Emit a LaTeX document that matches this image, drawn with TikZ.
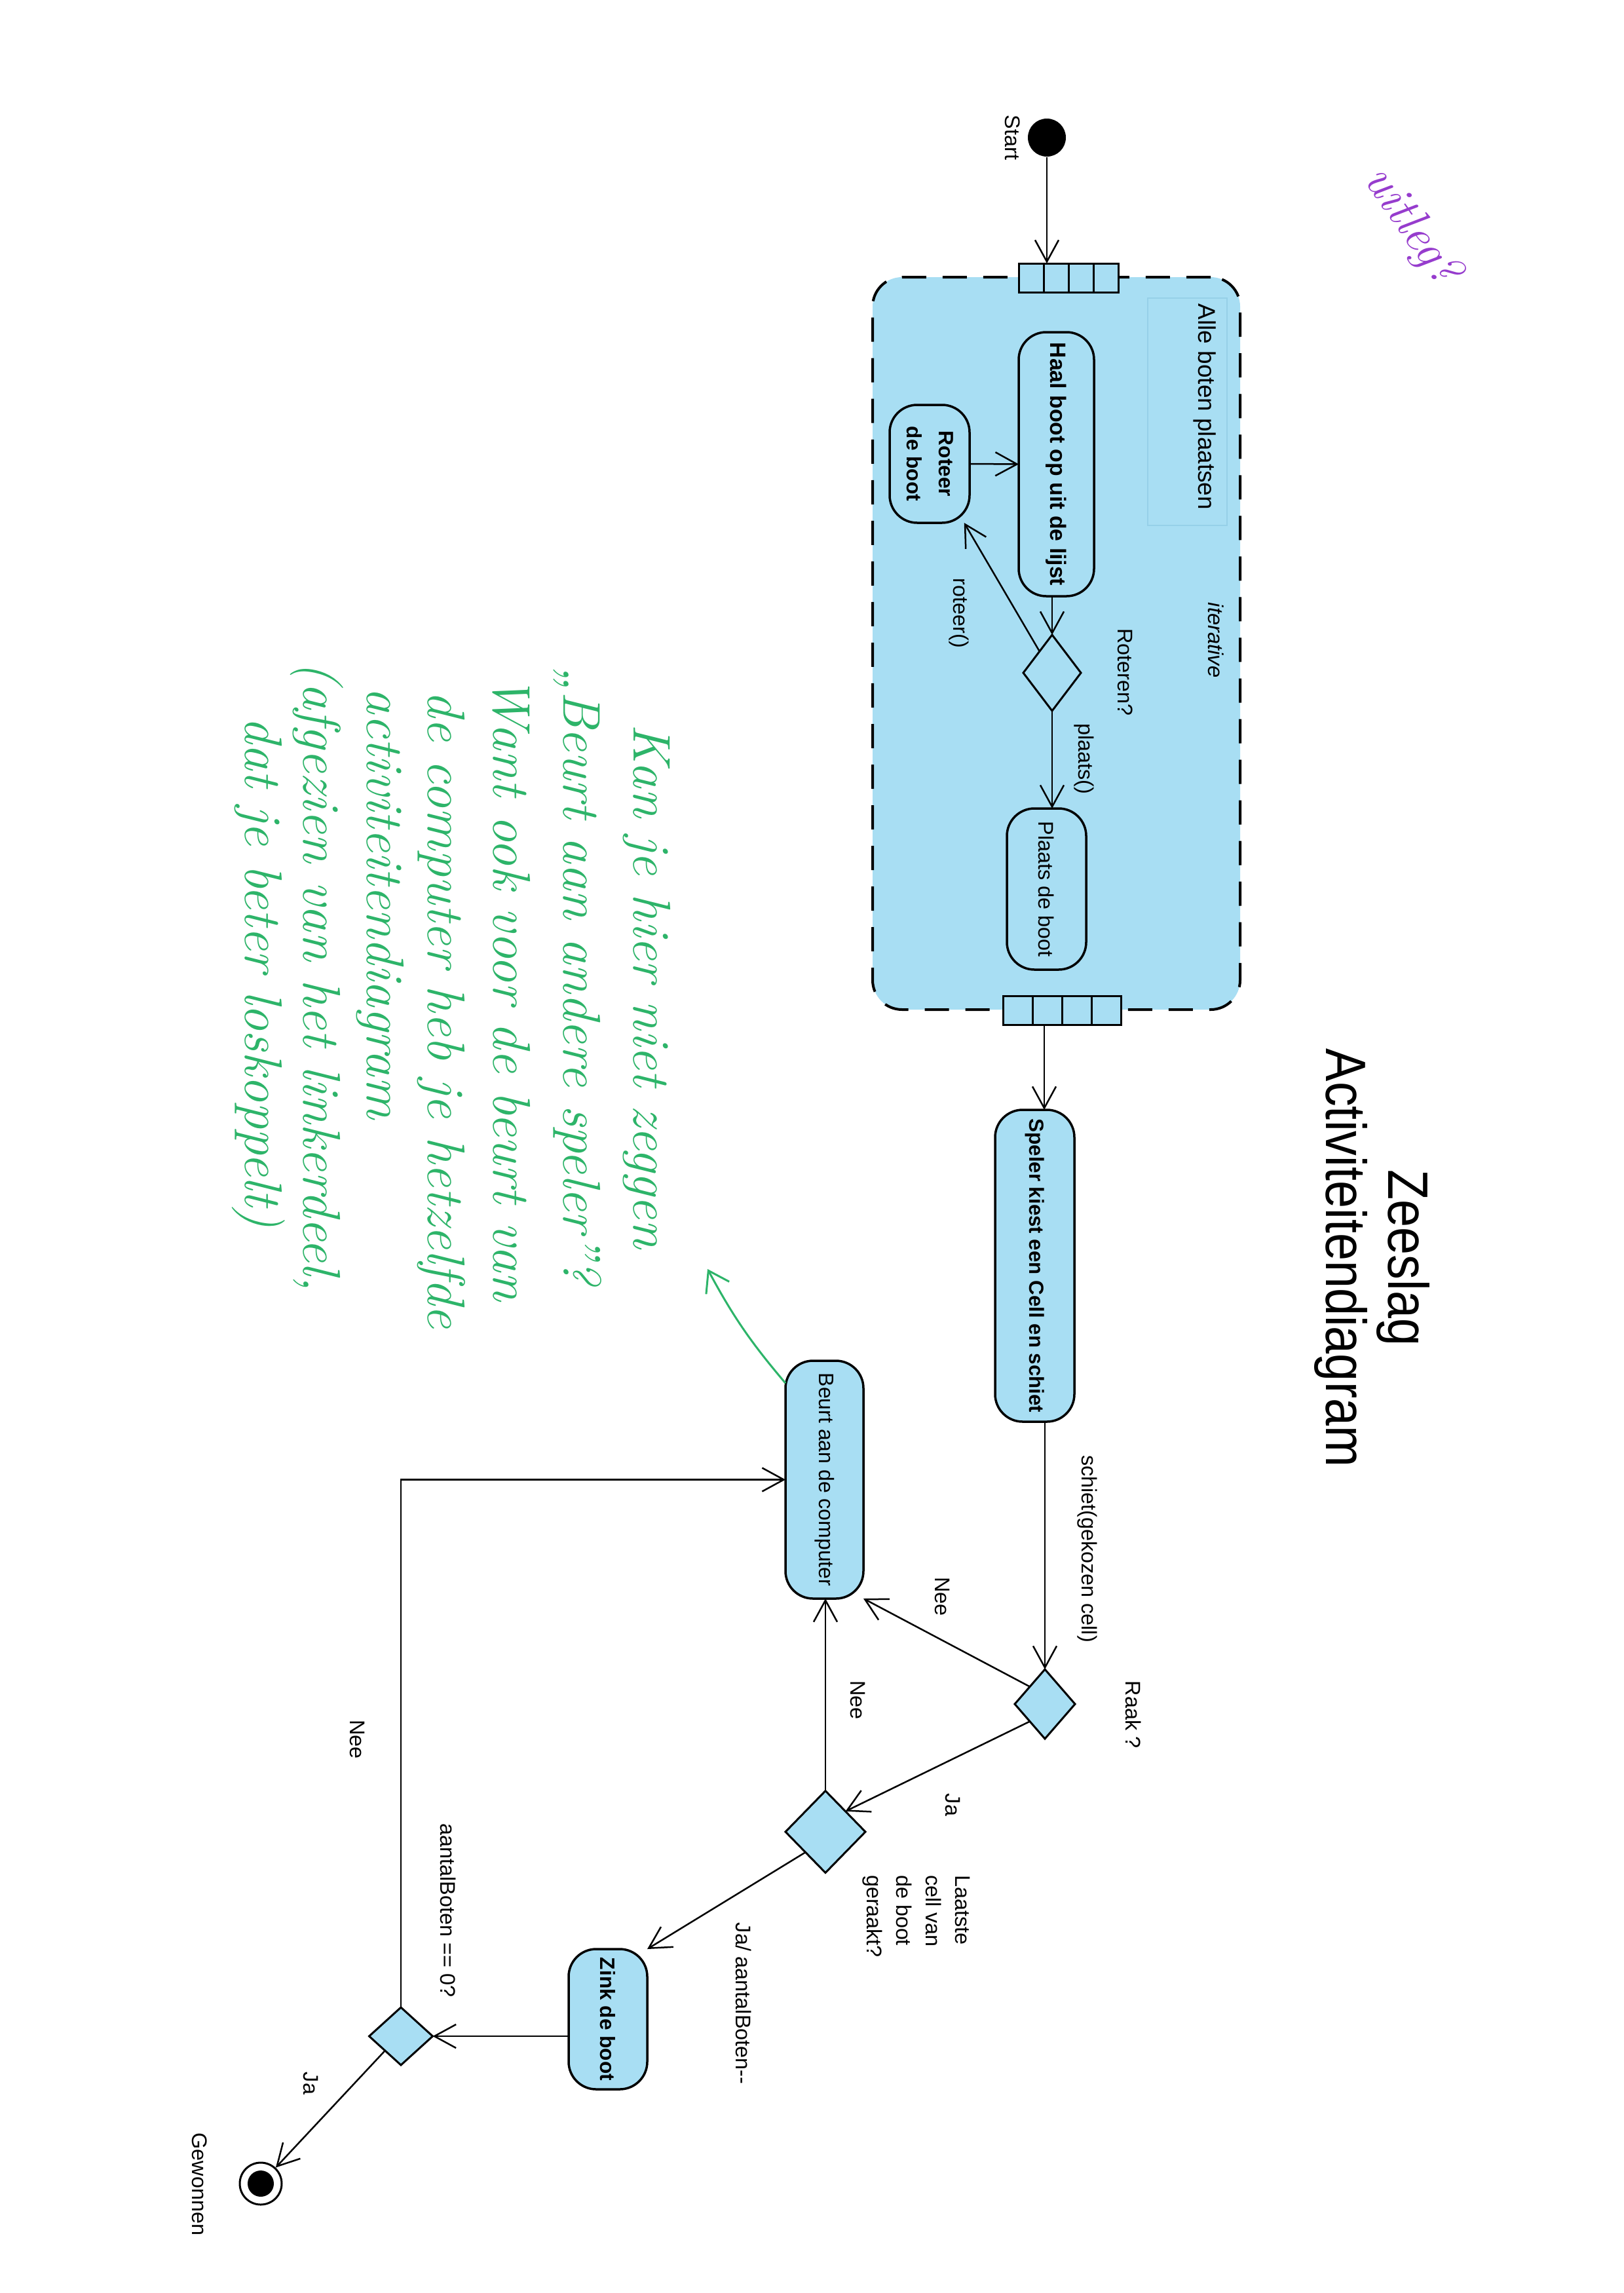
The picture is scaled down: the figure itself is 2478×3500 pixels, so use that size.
\documentclass[tikz,border=0pt]{standalone}
\usepackage{fontspec}
\usepackage{graphicx}
\usetikzlibrary{arrows.meta,shapes.geometric,calc}
\newfontfamily\diag{Liberation Sans}
\newfontfamily\diagtitle[FakeStretch=0.87]{Liberation Sans}
\newdimen\px \px=0.01cm
\definecolor{actfill}{RGB}{168,222,243}
\definecolor{lblframe}{RGB}{150,208,232}
\definecolor{penGreen}{RGB}{45,180,105}
\definecolor{penPurple}{RGB}{150,60,205}
\newcommand\vt[1]{\rotatebox{-90}{#1}}
\tikzset{
  act/.style={draw, line width=3.5\px, rounded corners=42\px, fill=actfill,
    inner sep=0pt, outer sep=0pt, font=\diag\bfseries\fontsize{9}{14}\selectfont},
  actplain/.style={act, font=\diag\fontsize{9.2}{14}\selectfont},
  dec/.style={diamond, draw, line width=3\px, fill=actfill, inner sep=0pt, outer sep=0pt},
  lbl/.style={inner sep=0pt, font=\diag\fontsize{9.2}{12.8}\selectfont},
  flow/.style={line width=2.5\px, -{Straight Barb[length=0.33cm,width=0.36cm]}},
  pinbox/.style={draw, line width=3\px, fill=actfill, inner sep=0pt, outer sep=0pt,
    minimum height=44\px,
    path picture={\foreach \i in {1,2,3}
      \draw[line width=3\px] ($(path picture bounding box.south west)!\i/4!(path picture bounding box.south east)$)
        -- ($(path picture bounding box.north west)!\i/4!(path picture bounding box.north east)$);}},
  region/.style={draw, line width=4\px, dash pattern=on 0.37cm off 0.25cm,
    rounded corners=45\px, fill=actfill, inner sep=0pt},
  hand/.style={inner sep=0pt, text=penGreen, font=\itshape\fontsize{23}{26}\selectfont, anchor=north},
}
\begin{document}
\begin{tikzpicture}[x=0.01cm, y=-0.01cm]
\fill[white] (0,0) rectangle (2478,3500);
\useasboundingbox (0,0) rectangle (2478,3500);

% title
\node[inner sep=0pt, font=\diagtitle\fontsize{24.7}{28}\selectfont] (title1) at (2142,1920) {\vt{Zeeslag}};
\node[inner sep=0pt, font=\diagtitle\fontsize{24.7}{28}\selectfont] (title2) at (2047,1920) {\vt{Activiteitendiagram}};

% initial node
\node[circle, fill=black, minimum size=58\px, inner sep=0pt] (start) at (1598,210) {};
\node[lbl] (startlbl) at (1546,210) {\vt{Start}};

% expansion region
\node[region, minimum width=561\px, minimum height=1118\px] (region) at (1612.5,982) {};
\node[draw=lblframe, line width=2\px, minimum width=121\px, minimum height=347\px, inner sep=0pt] (namebox) at (1812.5,628.5) {};
\node[inner sep=0pt, font=\diag\fontsize{10.5}{12}\selectfont] (nametxt) at (1839,621) {\vt{Alle boten plaatsen}};
\node[lbl, font=\diag\itshape\fontsize{9.3}{11}\selectfont] (iter) at (1856,977) {\vt{iterative}};
\node[pinbox, minimum width=152\px] (pinIn) at (1631,424) {};
\node[pinbox, minimum width=180\px] (pinOut) at (1621,1542) {};

\node[act, minimum width=115\px, minimum height=403\px, font=\diag\bfseries\fontsize{9.6}{14}\selectfont] (haal) at (1612.5,708.5) {\vt{Haal boot op uit de lijst}};
\node[act, minimum width=122\px, minimum height=180\px] (roteer) at (1419,708) {\vt{\begin{tabular}{@{}c@{}}Roteer\\de boot\end{tabular}}};
\node[dec, minimum width=88\px, minimum height=116\px, fill=none] (dR) at (1606,1027) {};
\node[actplain, minimum width=121\px, minimum height=246\px] (plaats) at (1597.5,1357) {\vt{Plaats de boot}};
\node[lbl] (lblRoteren) at (1718,1026) {\vt{Roteren?}};
\node[lbl] (lblroteer) at (1464,936) {\vt{roteer()}};
\node[lbl] (lblplaats) at (1655,1158) {\vt{plaats()}};

% main flow
\node[act, minimum width=121\px, minimum height=476\px, font=\diag\bfseries\fontsize{8.9}{14}\selectfont] (speler) at (1579.5,1932) {\vt{Speler kiest een Cell en schiet}};
\node[dec, minimum width=92\px, minimum height=106\px] (dRaak) at (1595,2601) {};
\node[lbl] (lblSchiet) at (1660,2364) {\vt{schiet(gekozen cell)}};
\node[lbl] (lblRaak) at (1730,2617) {\vt{Raak ?}};
\node[act, minimum width=119\px, minimum height=363\px, font=\diag\fontsize{9.1}{14}\selectfont] (beurt) at (1258.5,2258.5) {\vt{Beurt aan de computer}};
\node[dec, minimum width=122\px, minimum height=125\px] (dLaatste) at (1260,2796) {};
\node[lbl] (lblNee1) at (1438,2437) {\vt{Nee}};
\node[lbl] (lblJa1) at (1454,2755) {\vt{Ja}};
\node[lbl] (lblLaatste) at (1400,2925) {\vt{\begin{tabular}{@{}l@{}}Laatste\\cell van\\de boot\\geraakt?\end{tabular}}};
\node[lbl] (lblNee2) at (1309,2595) {\vt{Nee}};
\node[act, minimum width=120\px, minimum height=214\px] (zink) at (928,3082) {\vt{Zink de boot}};
\node[lbl] (lblJaAantal) at (1135,3058) {\vt{Ja/ aantalBoten--}};
\node[dec, minimum width=97\px, minimum height=88\px] (d3) at (612,3108) {};
\node[lbl] (lblAantal0) at (684,2916) {\vt{aantalBoten == 0?}};
\node[lbl] (lblNee3) at (545,2655) {\vt{Nee}};
\node[circle, draw, line width=3\px, minimum size=64\px, inner sep=0pt,
  path picture={\fill (path picture bounding box.center) circle (20\px);}] (end) at (398,3333) {};
\node[lbl] (lblJa3) at (474,3180) {\vt{Ja}};
\node[lbl] (lblGewonnen) at (305,3334) {\vt{Gewonnen}};

% connectors
\draw[flow] (start) -- (start |- pinIn.north);
\draw[flow] (roteer.east) -- (haal.west);
\draw[flow] (haal.south -| dR) -- (dR.north);
\draw[flow] (dR) -- (roteer);
\draw[flow] (dR.south) -- (dR.south |- plaats.north);
\draw[flow] ($(pinOut.south west)!0.35!(pinOut.south east)$) coordinate (o1) -- (o1 |- speler.north);
\draw[flow] (speler.south -| dRaak) -- (dRaak.north);
\draw[flow] (dRaak.north west) -- (beurt.south east);
\draw[flow] (dRaak.south west) -- (dLaatste.north east);
\draw[flow] (dLaatste.north) -- (dLaatste.north |- beurt.south);
\draw[flow] (dLaatste.south west) -- (zink.north east);
\draw[flow] (zink.west |- d3.east) -- (d3.east);
\draw[flow] (d3.north) |- (beurt.west);
\draw[flow] (d3.south west) -- (end);

% handwritten remarks
\node[hand] (h1) at (987,1105) {\vt{Kan je hier niet zeggen}};
\node[hand] (h2) at (882,1016) {\vt{,,Beurt aan andere speler''?}};
\node[hand] (h3) at (781,1031) {\vt{Want ook voor de beurt van}};
\node[hand] (h4) at (674,1054) {\vt{de computer heb je hetzelfde}};
\node[hand] (h5) at (580,1049) {\vt{activiteitendiagram}};
\node[hand] (h6) at (484,1009) {\vt{(afgezien van het linkerdeel,}};
\node[hand] (h7) at (395,1094) {\vt{dat je beter loskoppelt)}};
\coordinate (gtip) at (1080,1937);
\draw[penGreen, line width=3\px, -{Straight Barb[length=0.30cm,width=0.40cm]}] (beurt.112) to[bend left=6] (gtip);
\node[inner sep=0pt, text=penPurple, font=\itshape\fontsize{21}{24}\selectfont, rotate=-55] (uitleg) at (2154,346) {uitleg?};
\end{tikzpicture}
\end{document}
